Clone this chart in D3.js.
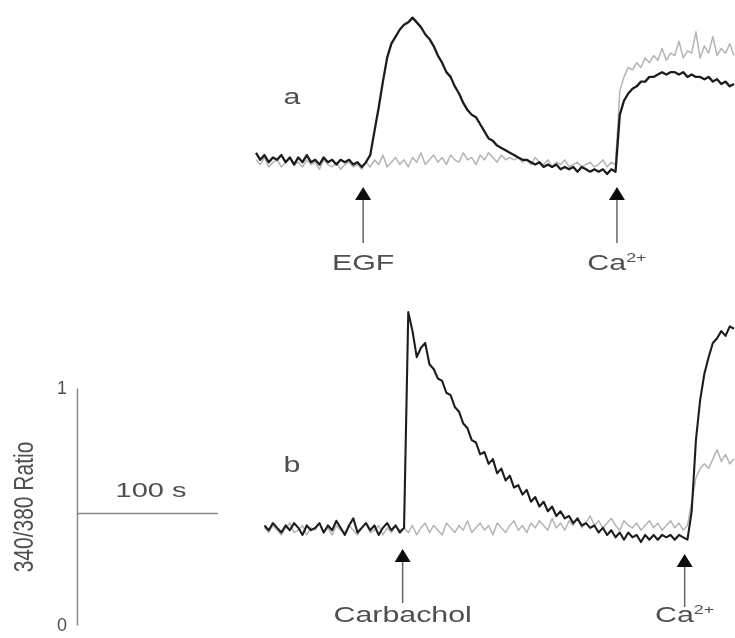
<!DOCTYPE html>
<html>
<head>
<meta charset="utf-8">
<script src="https://cdn.jsdelivr.net/npm/d3@7.9.0/dist/d3.min.js"></script>
<style>
  body { margin: 0; background: #fff; }
  svg { display: block; font-family: 'Liberation Sans', Arial, sans-serif; }
</style>
</head>
<body>
<svg id="chart" width="735" height="638"></svg>
<script>
// ---- data (340/380 ratio, sampled every 3 s) ----
const stepSec = 3;

// panel a: EGF then Ca2+
const aStart = 0;
const aBlack = [
  0.44,0.41,0.43,0.40,0.42,0.41,0.43,0.40,0.42,0.39,0.42,0.40,0.43,0.40,0.41,0.39,0.42,0.40,0.41,0.39,0.41,0.40,0.41,0.39,0.40,0.38,
  0.40,0.43,0.53,0.63,0.74,0.84,0.90,0.93,0.96,0.98,0.99,1.01,0.99,0.97,0.94,0.92,0.89,0.85,0.82,0.78,0.76,0.72,0.69,0.65,
  0.62,0.60,0.59,0.56,0.53,0.50,0.49,0.47,0.46,0.45,0.44,0.43,0.42,0.41,0.41,0.40,0.39,0.40,0.38,0.39,0.38,0.39,0.37,0.38,
  0.37,0.38,0.36,0.38,0.37,0.36,0.37,0.36,0.37,0.35,0.37,0.36,
  0.60,0.66,0.69,0.71,0.72,0.74,0.74,0.76,0.76,0.77,0.78,0.77,0.78,0.78,0.77,0.78,0.76,0.77,0.76,0.76,0.75,0.76,0.74,0.75,
  0.73,0.74,0.72,0.73
];
const aGray = [
  0.41,0.39,0.42,0.38,0.40,0.41,0.38,0.40,0.42,0.39,0.40,0.38,0.41,0.39,0.40,0.37,0.41,0.39,0.38,0.40,0.37,0.39,0.40,0.38,0.39,0.37,
  0.40,0.38,0.41,0.39,0.43,0.38,0.40,0.42,0.39,0.41,0.38,0.42,0.40,0.44,0.39,0.41,0.43,0.40,0.42,0.39,0.43,0.41,0.40,0.44,
  0.41,0.42,0.39,0.43,0.41,0.44,0.42,0.40,0.43,0.41,0.42,
  0.41,0.42,0.40,0.41,0.39,0.42,0.40,0.39,0.41,0.38,0.40,0.39,0.41,0.38,0.39,0.40,0.38,0.39,0.40,0.38,0.39,0.41,0.38,0.40,0.39,
  0.70,0.76,0.80,0.79,0.82,0.80,0.84,0.82,0.85,0.83,0.88,0.83,0.86,0.85,0.91,0.84,0.87,0.86,0.95,0.84,0.89,0.86,0.93,0.85,
  0.88,0.86,0.90,0.85
];

// panel b: Carbachol then Ca2+
const bStart = 6;
const bBlack = [
  0.42,0.40,0.43,0.41,0.39,0.42,0.40,0.43,0.41,0.38,0.42,0.40,0.41,0.43,0.39,0.42,0.40,0.44,0.41,0.38,0.42,0.45,0.39,0.41,
  0.43,0.40,0.42,0.38,0.41,0.43,0.40,0.42,0.39,0.41,
  1.32,1.24,1.13,1.17,1.19,1.10,1.08,1.04,1.03,0.98,0.97,0.92,0.90,0.85,0.83,0.78,0.77,0.72,0.73,0.68,0.70,0.64,0.66,0.61,
  0.63,0.58,0.59,0.55,0.57,0.52,0.54,0.50,0.52,0.48,0.50,0.46,0.48,0.45,0.46,0.43,0.45,0.42,0.43,0.41,0.42,0.39,0.41,0.38,
  0.40,0.37,0.39,0.36,0.39,0.37,0.38,0.35,0.38,0.36,0.38,0.36,0.38,0.37,0.38,0.36,0.38,0.37,0.36,
  0.48,0.78,0.95,1.06,1.13,1.19,1.21,1.24,1.22,1.26,1.25
];
const bGray = [
  0.41,0.39,0.42,0.40,0.38,0.41,0.43,0.39,0.40,0.42,0.38,0.41,0.40,0.43,0.39,0.41,0.38,0.42,0.40,0.39,
  0.42,0.40,0.38,0.41,0.43,0.39,0.40,0.42,0.38,0.41,0.39,0.42,0.40,0.41,0.39,0.42,0.38,0.41,0.43,0.39,
  0.42,0.40,0.38,0.43,0.41,0.39,0.42,0.40,0.44,0.39,0.41,0.43,0.40,0.42,0.38,0.43,0.41,0.39,0.42,0.44,
  0.40,0.42,0.39,0.43,0.41,0.44,0.42,0.40,0.45,0.41,0.43,0.40,0.44,0.42,0.45,0.41,0.43,0.46,0.42,0.44,
  0.41,0.43,0.45,0.42,0.40,0.44,0.42,0.41,0.43,0.40,0.42,0.44,0.41,0.43,0.40,0.42,0.44,0.41,0.43,0.40,
  0.42,
  0.52,0.62,0.66,0.68,0.66,0.70,0.74,0.69,0.72,0.68,0.70
];

// stimulus times (s)
const aStimuli = [{ label: 'EGF', t: 76 }, { label: 'Ca', sup: '2+', t: 256 }];
const bStimuli = [{ label: 'Carbachol', t: 104 }, { label: 'Ca', sup: '2+', t: 304 }];
const ratioTicks = [0, 1];
const timeBar = 100;

// ---- scales ----
const x = d3.scaleLinear().domain([0, 100]).range([256, 397]);
const yA = d3.scaleLinear().domain([0, 1]).range([257, 20]);
const yB = d3.scaleLinear().domain([0, 1]).range([625, 388]);

const svg = d3.select('#chart');
const labelColor = '#4f4f4f';
const stretch = 1.38;

// slight softening, the source is a scanned figure
svg.append('defs').append('filter').attr('id', 'soft')
  .append('feGaussianBlur').attr('stdDeviation', 0.45);
const root = svg.append('g').attr('filter', 'url(#soft)');

function drawTrace(values, t0, y, color, width) {
  const line = d3.line()
    .x((d, i) => x(t0 + i * stepSec))
    .y((d) => y(d));
  root.append('path')
    .datum(values)
    .attr('d', line)
    .attr('fill', 'none')
    .attr('stroke', color)
    .attr('stroke-width', width)
    .attr('stroke-linejoin', 'round');
}

function stretchedText(cx, baseline, size, d) {
  const g = root.append('g')
    .attr('transform', `translate(${cx},${baseline}) scale(${stretch},1)`);
  const t = g.append('text')
    .attr('text-anchor', 'middle')
    .attr('font-size', size)
    .attr('fill', labelColor);
  t.append('tspan').text(d.label);
  if (d.sup) {
    t.append('tspan').attr('font-size', 13).attr('dy', -8).text(d.sup);
  }
}

function drawArrows(stimuli, tipY, lineEnd, labelY) {
  stimuli.forEach((d, k) => {
    const cx = x(d.t);
    const tip = tipY[k];
    root.append('line')
      .attr('x1', cx).attr('x2', cx)
      .attr('y1', tip + 12).attr('y2', lineEnd[k])
      .attr('stroke', '#666').attr('stroke-width', 1.5);
    root.append('path')
      .attr('d', `M${cx},${tip} L${cx - 8},${tip + 13} L${cx + 8},${tip + 13} Z`)
      .attr('fill', '#111');
    stretchedText(cx, labelY, 22, d);
  });
}

// traces
drawTrace(aGray, aStart, yA, '#b4b4b4', 1.5);
drawTrace(aBlack, aStart, yA, '#1e1e1e', 2.3);
drawTrace(bGray, bStart, yB, '#b4b4b4', 1.5);
drawTrace(bBlack, bStart, yB, '#1e1e1e', 2.1);

// panel letters
stretchedText(292, 104, 22, { label: 'a' });
stretchedText(292, 472, 22, { label: 'b' });

// stimulus arrows
drawArrows(aStimuli, [187, 187], [243, 243], 270);
drawArrows(bStimuli, [549, 554], [603, 607], 622);

// scale bar
const barX = 77;
const axis = d3.axisLeft(yB).tickValues(ratioTicks).tickSize(0).tickPadding(10)
  .tickFormat(d3.format('d'));
const gAxis = root.append('g').attr('transform', `translate(${barX},0)`).call(axis);
gAxis.select('.domain').attr('stroke', '#888').attr('stroke-width', 1.5);
gAxis.selectAll('text').attr('font-size', 18).attr('fill', labelColor)
  .attr('font-family', "'Liberation Sans', Arial, sans-serif");

const barY = yB(0.47);
root.append('line')
  .attr('x1', barX).attr('x2', barX + x(timeBar) - x(0))
  .attr('y1', barY).attr('y2', barY)
  .attr('stroke', '#888').attr('stroke-width', 1.5);
stretchedText(151, 497, 21, { label: `${timeBar} s` });

root.append('text')
  .attr('transform', `translate(33,507) scale(1.3,1) rotate(-90)`)
  .attr('text-anchor', 'middle')
  .attr('font-size', 21)
  .attr('fill', labelColor)
  .text('340/380 Ratio');
</script>
</body>
</html>
